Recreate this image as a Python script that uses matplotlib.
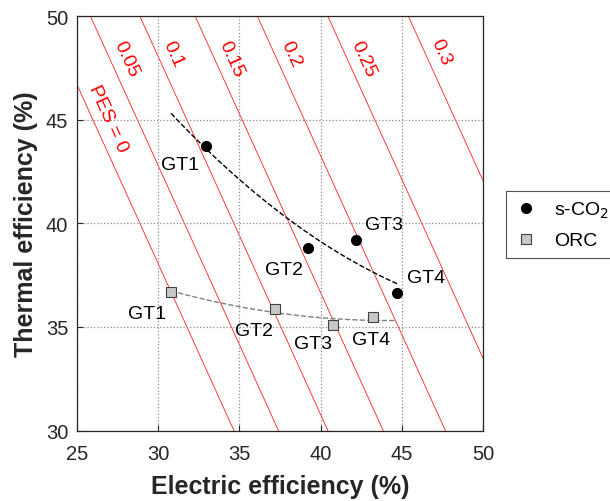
import numpy as np
import matplotlib
matplotlib.use("Agg")
import matplotlib.pyplot as plt

plt.rcParams["font.family"] = ["Liberation Sans", "DejaVu Sans"]

# reference efficiencies used for the PES iso-lines (%)
eta_e_ref = 52.0
eta_th_ref = 90.0
pes_levels = [0, 0.05, 0.1, 0.15, 0.2, 0.25, 0.3]
pes_labels = ["PES = 0", "0.05", "0.1", "0.15", "0.2", "0.25", "0.3"]
pes_label_y = [45.1, 47.95, 48.2, 47.95, 48.2, 47.95, 48.3]

gt_names = ["GT1", "GT2", "GT3", "GT4"]

# s-CO2 bottoming cycle
sco2_elec = [32.95, 39.2, 42.17, 44.67]
sco2_th = [43.72, 38.79, 39.21, 36.62]
sco2_lbl_x = [31.38, 37.74, 43.89, 46.47]
sco2_lbl_y = [42.83, 37.77, 39.97, 37.38]

# ORC bottoming cycle
orc_elec = [30.8, 37.19, 40.77, 43.23]
orc_th = [36.71, 35.89, 35.10, 35.46]
orc_lbl_x = [29.35, 35.9, 39.51, 43.09]
orc_lbl_y = [35.64, 34.82, 34.22, 34.41]

fig = plt.figure(figsize=(6.1, 5.02), dpi=100)
ax = fig.add_axes([0.1257, 0.1404, 0.6666, 0.8251])

# PES iso-lines: eta_e/eta_e_ref + eta_th/eta_th_ref = 1/(1-PES)
xs = np.linspace(20, 55, 50)
for p, lab, ly in zip(pes_levels, pes_labels, pes_label_y):
    ys = eta_th_ref * (1 / (1 - p) - xs / eta_e_ref)
    ax.plot(xs, ys, color="#ff2020", lw=0.6, zorder=1)
    lx = eta_e_ref * (1 / (1 - p) - ly / eta_th_ref) + 1.0
    ax.text(lx, ly, lab, color="red", fontsize=14, rotation=-65.6,
            ha="center", va="center", rotation_mode="anchor", zorder=2)

# quadratic trend lines
c1 = np.polyfit(sco2_elec, sco2_th, 2)
xf1 = np.linspace(30.8, 44.7, 60)
ax.plot(xf1, np.polyval(c1, xf1), "--", color="black", lw=1.0, zorder=3)
c2 = np.polyfit(orc_elec, orc_th, 2)
xf2 = np.linspace(30.8, 44.6, 60)
ax.plot(xf2, np.polyval(c2, xf2), "--", color="#808080", lw=1.0, zorder=3)

ax.plot(sco2_elec, sco2_th, "o", color="black", ms=7, ls="none",
        label="s-CO$_2$", zorder=4)
ax.plot(orc_elec, orc_th, "s", mfc="#c8c8c8", mec="#404040", mew=0.8, ms=7,
        ls="none", label="ORC", zorder=4)

for n, x, y in zip(gt_names, sco2_lbl_x, sco2_lbl_y):
    ax.text(x, y, n, fontsize=14, ha="center", va="center", zorder=5)
for n, x, y in zip(gt_names, orc_lbl_x, orc_lbl_y):
    ax.text(x, y, n, fontsize=14, ha="center", va="center", zorder=5)

ax.set_xlim(25, 50)
ax.set_ylim(30, 50)
ax.set_xticks(np.arange(25, 51, 5))
ax.set_yticks(np.arange(30, 51, 5))
ax.grid(True, ls=":", color="#8c8c8c", lw=0.9)
ax.tick_params(direction="in", labelsize=14.5, colors="#262626", length=4)
ax.tick_params(axis="x", pad=10)
ax.tick_params(axis="y", pad=6)
for s in ax.spines.values():
    s.set_color("#262626")
    s.set_linewidth(0.9)

ax.set_xlabel("Electric efficiency (%)", fontsize=18, fontweight="bold",
              color="#262626", va="center")
ax.set_ylabel("Thermal efficiency (%)", fontsize=18, fontweight="bold",
              color="#262626", va="center")
ax.xaxis.set_label_coords(0.5, -0.134)
ax.yaxis.set_label_coords(-0.1247, 0.5)

leg = ax.legend(loc="upper left", bbox_to_anchor=(0.8295, 0.6175),
                bbox_transform=fig.transFigure, borderaxespad=0,
                fontsize=14, fancybox=False, edgecolor="#262626",
                handlelength=1.2, handletextpad=0.8, borderpad=0.45,
                labelspacing=0.6)
leg.get_frame().set_linewidth(0.8)

fig.savefig("out.png", dpi=100)
